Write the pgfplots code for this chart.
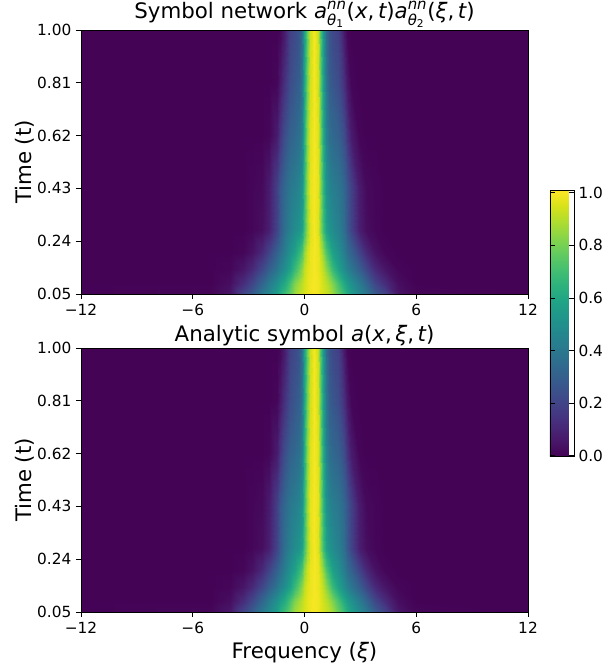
\documentclass[border=0pt]{standalone}
\usepackage{amsmath}
\usepackage{fontspec}
\setmainfont{DejaVu Sans}
\usepackage{pgfplots}
\pgfplotsset{compat=1.18}
\newcommand{\mi}[1]{\text{\itshape #1}}
\newcommand{\up}[1]{\text{#1}}
\pgfplotsset{
  panel/.style={
    scale only axis, width=335.25pt, height=198pt,
    xmin=-12, xmax=12, ymin=0.05, ymax=1,
    xtick={-12,-6,0,6,12}, xticklabels={−12,−6,0,6,12},
    ytick={0.05,0.24,0.43,0.62,0.81,1}, yticklabels={0.05,0.24,0.43,0.62,0.81,1.00},
    tick align=outside, tick pos=left, major tick length=3.75pt,
    every tick/.style={black,line width=0.6pt},
    axis line style={line width=0.6pt},
    tick label style={font=\fontsize{11.5}{13}\selectfont},
    ylabel={Time (t)},
    ylabel style={font=\fontsize{16}{18}\selectfont, yshift=-5pt},
    xlabel style={font=\fontsize{16}{18}\selectfont},
    title style={font=\fontsize{16}{18}\selectfont, yshift=-8pt},
    colormap name=viridis, point meta min=-0.004, point meta max=1.011,
    axis on top,
  },
  heat/.style={surf, shader=interp, mesh/cols=35, point meta=explicit},
}
\begin{document}
\begin{tikzpicture}
\path[use as bounding box] (-60.75pt,-43.5pt) rectangle (393pt,459pt);
\begin{axis}[panel, anchor=south west, at={(0pt,238.5pt)},
  title={Symbol network $\mi{a}^{\mi{nn}}_{\mi{θ}_{\text{1}}}\up{(}\mi{x}\up{,\,}\mi{t}\up{)}\mi{a}^{\mi{nn}}_{\mi{θ}_{\text{2}}}\up{(}\mi{ξ}\up{,\,}\mi{t}\up{)}$},
  colorbar, colorbar style={at={(1.049,0.394)}, anchor=north west, width=18pt, height=200pt,
    ytick={0,0.2,0.4,0.6,0.8,1}, yticklabels={0.0,0.2,0.4,0.6,0.8,1.0}, major tick length=3.75pt,
    tick label style={font=\fontsize{11.5}{13}\selectfont}, ylabel={}, title={}, axis line style={line width=0.6pt}}]
\addplot[heat] coordinates {
(-12,.05)[0] (-5,.05)[.01] (-4,.05)[.05] (-3.3,.05)[.2] (-2.8,.05)[.28] (-2.3,.05)[.4] (-1.9,.05)[.47] (-1.5,.05)[.56] (-1.3,.05)[.62] (-1.1,.05)[.68] (-.8,.05)[.77] (-.5,.05)[.87] (-.3,.05)[.91] (-.15,.05)[.93] (0,.05)[.95] (.15,.05)[.97] (.3,.05)[.99] (.5,.05)[1] (.7,.05)[.99] (.85,.05)[.97] (1,.05)[.95] (1.15,.05)[.93] (1.3,.05)[.91] (1.5,.05)[.87] (1.8,.05)[.77] (2.1,.05)[.68] (2.3,.05)[.62] (2.5,.05)[.56] (2.9,.05)[.47] (3.3,.05)[.4] (3.8,.05)[.28] (4.3,.05)[.2] (5,.05)[.05] (6,.05)[.01] (12,.05)[0]
(-12,.09)[0] (-5,.09)[0] (-4,.09)[.03] (-3.3,.09)[.12] (-2.8,.09)[.2] (-2.3,.09)[.32] (-1.9,.09)[.41] (-1.5,.09)[.5] (-1.3,.09)[.55] (-1.1,.09)[.6] (-.8,.09)[.71] (-.5,.09)[.82] (-.3,.09)[.87] (-.15,.09)[.91] (0,.09)[.94] (.15,.09)[.97] (.3,.09)[.99] (.5,.09)[1] (.7,.09)[.99] (.85,.09)[.97] (1,.09)[.94] (1.15,.09)[.91] (1.3,.09)[.87] (1.5,.09)[.82] (1.8,.09)[.71] (2.1,.09)[.6] (2.3,.09)[.55] (2.5,.09)[.5] (2.9,.09)[.41] (3.3,.09)[.32] (3.8,.09)[.2] (4.3,.09)[.12] (5,.09)[.03] (6,.09)[0] (12,.09)[0]
(-12,.14)[0] (-5,.14)[0] (-4,.14)[.01] (-3.3,.14)[.05] (-2.8,.14)[.11] (-2.3,.14)[.21] (-1.9,.14)[.3] (-1.5,.14)[.39] (-1.3,.14)[.44] (-1.1,.14)[.49] (-.8,.14)[.58] (-.5,.14)[.69] (-.3,.14)[.77] (-.15,.14)[.84] (0,.14)[.91] (.15,.14)[.96] (.3,.14)[.98] (.5,.14)[1] (.7,.14)[.98] (.85,.14)[.96] (1,.14)[.91] (1.15,.14)[.84] (1.3,.14)[.77] (1.5,.14)[.69] (1.8,.14)[.58] (2.1,.14)[.49] (2.3,.14)[.44] (2.5,.14)[.39] (2.9,.14)[.3] (3.3,.14)[.21] (3.8,.14)[.11] (4.3,.14)[.05] (5,.14)[.01] (6,.14)[0] (12,.14)[0]
(-12,.2)[0] (-5,.2)[0] (-4,.2)[0] (-3.3,.2)[.01] (-2.8,.2)[.04] (-2.3,.2)[.11] (-1.9,.2)[.2] (-1.5,.2)[.31] (-1.3,.2)[.36] (-1.1,.2)[.42] (-.8,.2)[.51] (-.5,.2)[.58] (-.3,.2)[.66] (-.15,.2)[.73] (0,.2)[.84] (.15,.2)[.93] (.3,.2)[.98] (.5,.2)[1] (.7,.2)[.98] (.85,.2)[.93] (1,.2)[.84] (1.15,.2)[.73] (1.3,.2)[.66] (1.5,.2)[.58] (1.8,.2)[.51] (2.1,.2)[.42] (2.3,.2)[.36] (2.5,.2)[.31] (2.9,.2)[.2] (3.3,.2)[.11] (3.8,.2)[.04] (4.3,.2)[.01] (5,.2)[0] (6,.2)[0] (12,.2)[0]
(-12,.28)[0] (-5,.28)[0] (-4,.28)[0] (-3.3,.28)[0] (-2.8,.28)[.01] (-2.3,.28)[.03] (-1.9,.28)[.08] (-1.5,.28)[.2] (-1.3,.28)[.28] (-1.1,.28)[.36] (-.8,.28)[.44] (-.5,.28)[.49] (-.3,.28)[.52] (-.15,.28)[.58] (0,.28)[.7] (.15,.28)[.85] (.3,.28)[.96] (.5,.28)[1] (.7,.28)[.96] (.85,.28)[.85] (1,.28)[.7] (1.15,.28)[.58] (1.3,.28)[.52] (1.5,.28)[.49] (1.8,.28)[.44] (2.1,.28)[.36] (2.3,.28)[.28] (2.5,.28)[.2] (2.9,.28)[.08] (3.3,.28)[.03] (3.8,.28)[.01] (4.3,.28)[0] (5,.28)[0] (6,.28)[0] (12,.28)[0]
(-12,.43)[0] (-5,.43)[0] (-4,.43)[0] (-3.3,.43)[0] (-2.8,.43)[.01] (-2.3,.43)[.02] (-1.9,.43)[.07] (-1.5,.43)[.19] (-1.3,.43)[.27] (-1.1,.43)[.33] (-.8,.43)[.4] (-.5,.43)[.43] (-.3,.43)[.46] (-.15,.43)[.52] (0,.43)[.67] (.15,.43)[.85] (.3,.43)[.97] (.5,.43)[1] (.7,.43)[.97] (.85,.43)[.85] (1,.43)[.67] (1.15,.43)[.52] (1.3,.43)[.46] (1.5,.43)[.43] (1.8,.43)[.4] (2.1,.43)[.33] (2.3,.43)[.27] (2.5,.43)[.19] (2.9,.43)[.07] (3.3,.43)[.02] (3.8,.43)[.01] (4.3,.43)[0] (5,.43)[0] (6,.43)[0] (12,.43)[0]
(-12,.62)[0] (-5,.62)[0] (-4,.62)[0] (-3.3,.62)[0] (-2.8,.62)[0] (-2.3,.62)[0] (-1.9,.62)[.01] (-1.5,.62)[.07] (-1.3,.62)[.15] (-1.1,.62)[.23] (-.8,.62)[.31] (-.5,.62)[.34] (-.3,.62)[.37] (-.15,.62)[.45] (0,.62)[.62] (.15,.62)[.83] (.3,.62)[.96] (.5,.62)[1] (.7,.62)[.96] (.85,.62)[.83] (1,.62)[.62] (1.15,.62)[.45] (1.3,.62)[.37] (1.5,.62)[.34] (1.8,.62)[.31] (2.1,.62)[.23] (2.3,.62)[.15] (2.5,.62)[.07] (2.9,.62)[.01] (3.3,.62)[0] (3.8,.62)[0] (4.3,.62)[0] (5,.62)[0] (6,.62)[0] (12,.62)[0]
(-12,.81)[0] (-5,.81)[0] (-4,.81)[0] (-3.3,.81)[0] (-2.8,.81)[0] (-2.3,.81)[0] (-1.9,.81)[0] (-1.5,.81)[.01] (-1.3,.81)[.06] (-1.1,.81)[.13] (-.8,.81)[.23] (-.5,.81)[.27] (-.3,.81)[.3] (-.15,.81)[.4] (0,.81)[.58] (.15,.81)[.79] (.3,.81)[.94] (.5,.81)[1] (.7,.81)[.94] (.85,.81)[.79] (1,.81)[.58] (1.15,.81)[.4] (1.3,.81)[.3] (1.5,.81)[.27] (1.8,.81)[.23] (2.1,.81)[.13] (2.3,.81)[.06] (2.5,.81)[.01] (2.9,.81)[0] (3.3,.81)[0] (3.8,.81)[0] (4.3,.81)[0] (5,.81)[0] (6,.81)[0] (12,.81)[0]
(-12,1)[0] (-5,1)[0] (-4,1)[0] (-3.3,1)[0] (-2.8,1)[0] (-2.3,1)[0] (-1.9,1)[0] (-1.5,1)[0] (-1.3,1)[.01] (-1.1,1)[.06] (-.8,1)[.19] (-.5,1)[.22] (-.3,1)[.26] (-.15,1)[.36] (0,1)[.55] (.15,1)[.76] (.3,1)[.93] (.5,1)[1] (.7,1)[.93] (.85,1)[.76] (1,1)[.55] (1.15,1)[.36] (1.3,1)[.26] (1.5,1)[.22] (1.8,1)[.19] (2.1,1)[.06] (2.3,1)[.01] (2.5,1)[0] (2.9,1)[0] (3.3,1)[0] (3.8,1)[0] (4.3,1)[0] (5,1)[0] (6,1)[0] (12,1)[0]
};
\end{axis}
\begin{axis}[panel, anchor=south west, at={(0pt,0pt)},
  title={Analytic symbol $\mi{a}\up{(}\mi{x}\up{,\,}\mi{ξ}\up{,\,}\mi{t}\up{)}$},
  xlabel={Frequency ($\mi{ξ}$)}]
\addplot[heat] coordinates {
(-12,.05)[0] (-5,.05)[.01] (-4,.05)[.06] (-3.3,.05)[.2] (-2.8,.05)[.29] (-2.3,.05)[.41] (-1.9,.05)[.48] (-1.5,.05)[.57] (-1.3,.05)[.63] (-1.1,.05)[.69] (-.8,.05)[.78] (-.5,.05)[.88] (-.3,.05)[.91] (-.15,.05)[.93] (0,.05)[.95] (.15,.05)[.97] (.3,.05)[.99] (.5,.05)[1] (.7,.05)[.99] (.85,.05)[.97] (1,.05)[.95] (1.15,.05)[.93] (1.3,.05)[.91] (1.5,.05)[.88] (1.8,.05)[.78] (2.1,.05)[.69] (2.3,.05)[.63] (2.5,.05)[.57] (2.9,.05)[.48] (3.3,.05)[.41] (3.8,.05)[.29] (4.3,.05)[.2] (5,.05)[.06] (6,.05)[.01] (12,.05)[0]
(-12,.09)[0] (-5,.09)[0] (-4,.09)[.03] (-3.3,.09)[.12] (-2.8,.09)[.21] (-2.3,.09)[.33] (-1.9,.09)[.42] (-1.5,.09)[.51] (-1.3,.09)[.56] (-1.1,.09)[.61] (-.8,.09)[.72] (-.5,.09)[.82] (-.3,.09)[.87] (-.15,.09)[.91] (0,.09)[.94] (.15,.09)[.97] (.3,.09)[.99] (.5,.09)[1] (.7,.09)[.99] (.85,.09)[.97] (1,.09)[.94] (1.15,.09)[.91] (1.3,.09)[.87] (1.5,.09)[.82] (1.8,.09)[.72] (2.1,.09)[.61] (2.3,.09)[.56] (2.5,.09)[.51] (2.9,.09)[.42] (3.3,.09)[.33] (3.8,.09)[.21] (4.3,.09)[.12] (5,.09)[.03] (6,.09)[0] (12,.09)[0]
(-12,.14)[0] (-5,.14)[0] (-4,.14)[.01] (-3.3,.14)[.05] (-2.8,.14)[.11] (-2.3,.14)[.21] (-1.9,.14)[.3] (-1.5,.14)[.39] (-1.3,.14)[.44] (-1.1,.14)[.49] (-.8,.14)[.58] (-.5,.14)[.69] (-.3,.14)[.77] (-.15,.14)[.84] (0,.14)[.91] (.15,.14)[.96] (.3,.14)[.98] (.5,.14)[1] (.7,.14)[.98] (.85,.14)[.96] (1,.14)[.91] (1.15,.14)[.84] (1.3,.14)[.77] (1.5,.14)[.69] (1.8,.14)[.58] (2.1,.14)[.49] (2.3,.14)[.44] (2.5,.14)[.39] (2.9,.14)[.3] (3.3,.14)[.21] (3.8,.14)[.11] (4.3,.14)[.05] (5,.14)[.01] (6,.14)[0] (12,.14)[0]
(-12,.2)[0] (-5,.2)[0] (-4,.2)[0] (-3.3,.2)[.01] (-2.8,.2)[.04] (-2.3,.2)[.11] (-1.9,.2)[.2] (-1.5,.2)[.31] (-1.3,.2)[.36] (-1.1,.2)[.42] (-.8,.2)[.51] (-.5,.2)[.58] (-.3,.2)[.66] (-.15,.2)[.73] (0,.2)[.84] (.15,.2)[.93] (.3,.2)[.98] (.5,.2)[1] (.7,.2)[.98] (.85,.2)[.93] (1,.2)[.84] (1.15,.2)[.73] (1.3,.2)[.66] (1.5,.2)[.58] (1.8,.2)[.51] (2.1,.2)[.42] (2.3,.2)[.36] (2.5,.2)[.31] (2.9,.2)[.2] (3.3,.2)[.11] (3.8,.2)[.04] (4.3,.2)[.01] (5,.2)[0] (6,.2)[0] (12,.2)[0]
(-12,.28)[0] (-5,.28)[0] (-4,.28)[0] (-3.3,.28)[0] (-2.8,.28)[.01] (-2.3,.28)[.03] (-1.9,.28)[.08] (-1.5,.28)[.2] (-1.3,.28)[.28] (-1.1,.28)[.36] (-.8,.28)[.44] (-.5,.28)[.49] (-.3,.28)[.52] (-.15,.28)[.58] (0,.28)[.7] (.15,.28)[.85] (.3,.28)[.96] (.5,.28)[1] (.7,.28)[.96] (.85,.28)[.85] (1,.28)[.7] (1.15,.28)[.58] (1.3,.28)[.52] (1.5,.28)[.49] (1.8,.28)[.44] (2.1,.28)[.36] (2.3,.28)[.28] (2.5,.28)[.2] (2.9,.28)[.08] (3.3,.28)[.03] (3.8,.28)[.01] (4.3,.28)[0] (5,.28)[0] (6,.28)[0] (12,.28)[0]
(-12,.43)[0] (-5,.43)[0] (-4,.43)[0] (-3.3,.43)[0] (-2.8,.43)[.01] (-2.3,.43)[.02] (-1.9,.43)[.07] (-1.5,.43)[.19] (-1.3,.43)[.27] (-1.1,.43)[.33] (-.8,.43)[.4] (-.5,.43)[.43] (-.3,.43)[.46] (-.15,.43)[.52] (0,.43)[.67] (.15,.43)[.85] (.3,.43)[.97] (.5,.43)[1] (.7,.43)[.97] (.85,.43)[.85] (1,.43)[.67] (1.15,.43)[.52] (1.3,.43)[.46] (1.5,.43)[.43] (1.8,.43)[.4] (2.1,.43)[.33] (2.3,.43)[.27] (2.5,.43)[.19] (2.9,.43)[.07] (3.3,.43)[.02] (3.8,.43)[.01] (4.3,.43)[0] (5,.43)[0] (6,.43)[0] (12,.43)[0]
(-12,.62)[0] (-5,.62)[0] (-4,.62)[0] (-3.3,.62)[0] (-2.8,.62)[0] (-2.3,.62)[0] (-1.9,.62)[.01] (-1.5,.62)[.07] (-1.3,.62)[.15] (-1.1,.62)[.23] (-.8,.62)[.31] (-.5,.62)[.34] (-.3,.62)[.37] (-.15,.62)[.45] (0,.62)[.62] (.15,.62)[.83] (.3,.62)[.96] (.5,.62)[1] (.7,.62)[.96] (.85,.62)[.83] (1,.62)[.62] (1.15,.62)[.45] (1.3,.62)[.37] (1.5,.62)[.34] (1.8,.62)[.31] (2.1,.62)[.23] (2.3,.62)[.15] (2.5,.62)[.07] (2.9,.62)[.01] (3.3,.62)[0] (3.8,.62)[0] (4.3,.62)[0] (5,.62)[0] (6,.62)[0] (12,.62)[0]
(-12,.81)[0] (-5,.81)[0] (-4,.81)[0] (-3.3,.81)[0] (-2.8,.81)[0] (-2.3,.81)[0] (-1.9,.81)[0] (-1.5,.81)[.01] (-1.3,.81)[.06] (-1.1,.81)[.13] (-.8,.81)[.23] (-.5,.81)[.27] (-.3,.81)[.3] (-.15,.81)[.4] (0,.81)[.58] (.15,.81)[.79] (.3,.81)[.94] (.5,.81)[1] (.7,.81)[.94] (.85,.81)[.79] (1,.81)[.58] (1.15,.81)[.4] (1.3,.81)[.3] (1.5,.81)[.27] (1.8,.81)[.23] (2.1,.81)[.13] (2.3,.81)[.06] (2.5,.81)[.01] (2.9,.81)[0] (3.3,.81)[0] (3.8,.81)[0] (4.3,.81)[0] (5,.81)[0] (6,.81)[0] (12,.81)[0]
(-12,1)[0] (-5,1)[0] (-4,1)[0] (-3.3,1)[0] (-2.8,1)[0] (-2.3,1)[0] (-1.9,1)[0] (-1.5,1)[0] (-1.3,1)[.01] (-1.1,1)[.06] (-.8,1)[.19] (-.5,1)[.22] (-.3,1)[.26] (-.15,1)[.36] (0,1)[.55] (.15,1)[.76] (.3,1)[.93] (.5,1)[1] (.7,1)[.93] (.85,1)[.76] (1,1)[.55] (1.15,1)[.36] (1.3,1)[.26] (1.5,1)[.22] (1.8,1)[.19] (2.1,1)[.06] (2.3,1)[.01] (2.5,1)[0] (2.9,1)[0] (3.3,1)[0] (3.8,1)[0] (4.3,1)[0] (5,1)[0] (6,1)[0] (12,1)[0]
};
\end{axis}
\end{tikzpicture}
\end{document}
